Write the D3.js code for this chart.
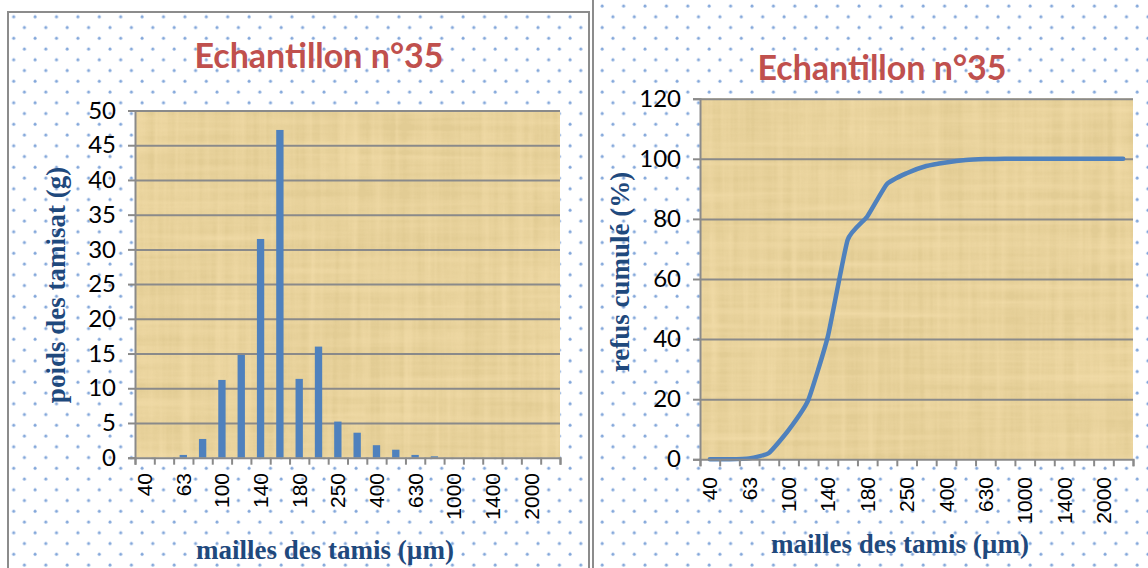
<!DOCTYPE html>
<html>
<head>
<meta charset="utf-8">
<script src="https://cdnjs.cloudflare.com/ajax/libs/d3/7.8.5/d3.min.js"></script>
<style>
body { margin: 0; background: #fff; }
</style>
</head>
<body>
<script>
var width = 1148, height = 568;

// mailles des tamis (µm), one per category
var sieves = ["40","50","63","80","100","125","140","160","180","200","250","315","400","500","630","800","1000","1250","1400","1600","2000","2500"];
// labels Excel shows (every other category)
var shownLabels = ["40","63","100","140","180","250","400","630","1000","1400","2000"];
// poids des tamisat (g)
var poids = [0,0,0.4,2.7,11.2,14.8,31.5,47.2,11.35,16,5.2,3.6,1.8,1.15,0.4,0.2,0,0,0,0,0,0];
// refus cumulé (%)
var refus = [0,0,0.3,2.1,9.7,19.7,41,73,80.8,91.6,95.2,97.6,98.8,99.6,99.9,100,100,100,100,100,100,100];
var poidsTicks = [0,5,10,15,20,25,30,35,40,45,50];
var refusTicks = [0,20,40,60,80,100,120];

var blue = "#4f81bd", grid = "#8a8a8a", titleRed = "#c0504d", axisBlue = "#1f497d";
var serif = "Liberation Serif, Times New Roman, serif";

var svg = d3.select("body").append("svg")
  .attr("width", width)
  .attr("height", height);

var defs = svg.append("defs");

// dotted chart background
var pat = defs.append("pattern")
  .attr("id", "dots")
  .attr("patternUnits", "userSpaceOnUse")
  .attr("width", 21.4).attr("height", 21.5);
pat.append("circle").attr("cx", 3).attr("cy", 6).attr("r", 1.5).attr("fill", "#6d98d4").attr("opacity", 0.85);
pat.append("circle").attr("cx", 13.7).attr("cy", 16.75).attr("r", 1.5).attr("fill", "#6d98d4").attr("opacity", 0.85);

// papyrus-like plot area
var f = defs.append("filter").attr("id", "papyrus")
  .attr("x", 0).attr("y", 0).attr("width", 1).attr("height", 1);
f.append("feTurbulence").attr("type", "fractalNoise").attr("baseFrequency", "0.004 0.12")
  .attr("numOctaves", 3).attr("seed", 4).attr("result", "n1");
f.append("feTurbulence").attr("type", "fractalNoise").attr("baseFrequency", "0.12 0.004")
  .attr("numOctaves", 3).attr("seed", 9).attr("result", "n2");
f.append("feBlend").attr("in", "n1").attr("in2", "n2").attr("mode", "multiply").attr("result", "n3");
f.append("feColorMatrix").attr("in", "n3").attr("type", "matrix")
  .attr("values", "0 0 0 0 0.70  0 0 0 0 0.55  0 0 0 0 0.25  2.2 0 0 0 -0.35");

function panel(x, y, w, h) {
  svg.append("rect").attr("x", x).attr("y", y).attr("width", w).attr("height", h)
    .attr("fill", "url(#dots)")
    .attr("stroke", "#8c8c8c").attr("stroke-width", 2);
}

function plotArea(x0, x1, y0, y1) {
  svg.append("rect").attr("x", x0).attr("y", y0).attr("width", x1 - x0).attr("height", y1 - y0)
    .attr("fill", "#f0daa6");
  svg.append("rect").attr("x", x0).attr("y", y0).attr("width", x1 - x0).attr("height", y1 - y0)
    .attr("filter", "url(#papyrus)").attr("opacity", 0.6);
}

function writeText(text, x, y, size, family, color, weight, rotate) {
  var t = svg.append("text")
    .attr("x", x).attr("y", y)
    .attr("text-anchor", "middle")
    .style("font-family", family)
    .style("font-size", size + "px")
    .style("font-weight", weight || "normal")
    .attr("fill", color)
    .text(text);
  if (rotate) t.attr("transform", "rotate(-90," + x + "," + y + ")");
  return t;
}

function frame(x, y, ticks, labelPad) {
  // grid lines
  svg.append("g")
    .attr("transform", "translate(" + x.range()[0] + ",0)")
    .call(d3.axisLeft(y).tickValues(ticks.slice(1)).tickSize(-(x.range()[1] - x.range()[0])).tickFormat(""))
    .call(function(g) {
      g.select(".domain").remove();
      g.selectAll("line").attr("stroke", grid).attr("stroke-width", 2);
    });
  // y axis
  svg.append("g")
    .attr("transform", "translate(" + x.range()[0] + ",0)")
    .call(d3.axisLeft(y).tickValues(ticks).tickSize(7).tickPadding(labelPad))
    .call(function(g) {
      g.select(".domain").attr("stroke", grid).attr("stroke-width", 2);
      g.selectAll("line").attr("stroke", grid).attr("stroke-width", 2);
      g.selectAll("text").attr("fill", "#000").style("font-family", "Lato, sans-serif").style("font-size", "24px");
    });
}

function xAxis(x, yBase, labelTop) {
  var idx = d3.scaleLinear().domain([0, sieves.length]).range(x.range());
  svg.append("g")
    .attr("transform", "translate(0," + yBase + ")")
    .call(d3.axisBottom(idx).tickValues(d3.range(sieves.length + 1)).tickSize(7).tickFormat(""))
    .call(function(g) {
      g.select(".domain").attr("stroke", grid).attr("stroke-width", 2);
      g.selectAll("line").attr("stroke", grid).attr("stroke-width", 2);
    });
  svg.append("g").selectAll("text")
    .data(shownLabels)
    .join("text")
    .attr("transform", function(d) {
      return "translate(" + (x(d) + x.bandwidth() / 2 + 7.5) + "," + labelTop + ") rotate(-90)";
    })
    .attr("text-anchor", "end")
    .style("font-family", "Liberation Sans, Arial, sans-serif")
    .style("font-size", "21px")
    .attr("fill", "#000")
    .text(function(d) { return d; });
}

// ---- left chart: poids des tamisat
panel(8, 12, 581, 570);
var x1 = d3.scaleBand().domain(sieves).range([135, 560]);
var y1 = d3.scaleLinear().domain([0, 50]).range([457.7, 110.5]);
plotArea(135, 560, 110.5, 457.7);
frame(x1, y1, poidsTicks, 12);

svg.append("g").selectAll("rect")
  .data(poids)
  .join("rect")
  .attr("x", function(d, i) { return x1(sieves[i]) + x1.bandwidth() * 0.31; })
  .attr("width", x1.bandwidth() * 0.38)
  .attr("y", function(d) { return y1(d); })
  .attr("height", function(d) { return y1(0) - y1(d); })
  .attr("fill", blue);

xAxis(x1, 457.7, 473);

writeText("Echantillon n°35", 319, 68, 34, "Lato, sans-serif", titleRed, "bold");
writeText("poids des tamisat (g)", 65, 285, 27, serif, axisBlue, "bold", true);
writeText("mailles des tamis (µm)", 325, 559, 27, serif, axisBlue, "bold");

// ---- right chart: refus cumulé
panel(593, -10, 570, 592);
var x2 = d3.scaleBand().domain(sieves).range([700, 1133]);
var y2 = d3.scaleLinear().domain([0, 120]).range([459.3, 98.7]);
plotArea(700, 1133, 98.7, 459.3);
frame(x2, y2, refusTicks, 12);

svg.append("path")
  .datum(refus)
  .attr("fill", "none")
  .attr("stroke", blue)
  .attr("stroke-width", 4.5)
  .attr("stroke-linecap", "round")
  .attr("stroke-linejoin", "round")
  .attr("d", d3.line()
    .x(function(d, i) { return x2(sieves[i]) + x2.bandwidth() / 2; })
    .y(function(d) { return y2(d); })
    .curve(d3.curveCardinal.tension(0.55)));

xAxis(x2, 459.3, 477);

writeText("Echantillon n°35", 882, 80, 34, "Lato, sans-serif", titleRed, "bold");
writeText("refus cumulé (%)", 629, 272, 27, serif, axisBlue, "bold", true);
writeText("mailles des tamis (µm)", 900, 553, 27, serif, axisBlue, "bold");
</script>
</body>
</html>
